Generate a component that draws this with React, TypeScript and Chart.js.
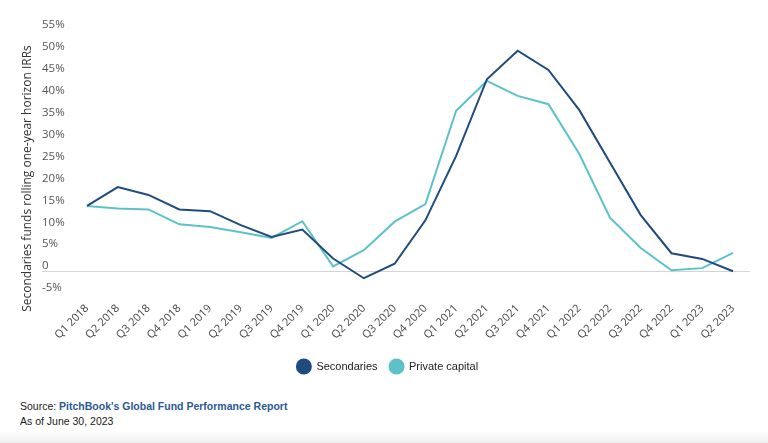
import React, { useEffect, useRef } from "react";
import { Chart, registerables } from "chart.js";

Chart.register(...registerables);

const categories = [
  "Q1 2018", "Q2 2018", "Q3 2018", "Q4 2018",
  "Q1 2019", "Q2 2019", "Q3 2019", "Q4 2019",
  "Q1 2020", "Q2 2020", "Q3 2020", "Q4 2020",
  "Q1 2021", "Q2 2021", "Q3 2021", "Q4 2021",
  "Q1 2022", "Q2 2022", "Q3 2022", "Q4 2022",
  "Q1 2023", "Q2 2023",
];

const secondaries = [
  15.1, 19.4, 17.6, 14.3, 13.9, 10.7, 8.0, 9.7, 3.1, -1.4, 1.9, 11.8,
  26.5, 44.0, 50.5, 46.1, 37.0, 25.0, 13.0, 4.3, 3.0, 0.2,
];

const privateCapital = [
  15.1, 14.5, 14.3, 10.9, 10.3, 9.1, 7.8, 11.6, 1.3, 5.0, 11.5, 15.5,
  36.8, 43.6, 40.2, 38.3, 27.0, 12.4, 5.5, 0.4, 0.9, 4.4,
];

const seriesNames = ["Secondaries", "Private capital"];
const yMin = -5;
const yMax = 55;
const yStep = 5;
const yTitle = "Secondaries funds rolling one-year horizon IRRs";

const DARK = "#1f4b7e";
const TEAL = "#5cc1c8";

export default function App() {
  const ref = useRef<HTMLCanvasElement>(null);

  useEffect(() => {
    if (!ref.current) return;

    const zeroLine = {
      id: "zeroLine",
      beforeDatasetsDraw(chart: any) {
        const y = chart.scales.y;
        const py = Math.round(y.getPixelForValue(0)) - 0.5;
        const ctx = chart.ctx;
        ctx.save();
        ctx.strokeStyle = "#d4d4d4";
        ctx.lineWidth = 1;
        ctx.beginPath();
        ctx.moveTo(y.left, py);
        ctx.lineTo(chart.chartArea.right + 17, py);
        ctx.stroke();
        ctx.restore();
      },
    };

    const titlePlugin = {
      id: "yTitle",
      afterDraw(chart: any) {
        const ctx = chart.ctx;
        const a = chart.chartArea;
        ctx.save();
        ctx.translate(28, (a.top + a.bottom) / 2 + 16);
        ctx.rotate(-Math.PI / 2);
        ctx.font = '12px "Open Sans"';
        ctx.fillStyle = "#333333";
        ctx.textAlign = "center";
        ctx.textBaseline = "middle";
        ctx.fillText(yTitle, 0, 0);
        ctx.restore();
      },
    };

    const chart = new Chart(ref.current, {
      type: "line",
      data: {
        labels: categories,
        datasets: [
          {
            label: seriesNames[0],
            data: secondaries,
            borderColor: DARK,
            backgroundColor: DARK,
            borderWidth: 2,
            pointRadius: 0,
            tension: 0,
          },
          {
            label: seriesNames[1],
            data: privateCapital,
            borderColor: TEAL,
            backgroundColor: TEAL,
            borderWidth: 2,
            pointRadius: 0,
            tension: 0,
          },
        ],
      },
      options: {
        responsive: false,
        animation: false,
        layout: { padding: { top: 31, left: 42, right: 35, bottom: 8 } },
        plugins: {
          tooltip: { enabled: false },
          legend: {
            position: "bottom",
            labels: {
              usePointStyle: true,
              pointStyle: "circle",
              pointStyleWidth: 14,
              boxWidth: 14,
              boxHeight: 10,
              padding: 12,
              color: "#222222",
              font: { family: '"Liberation Sans", Arial', size: 11 },
            },
          },
        },
        scales: {
          x: {
            offset: false,
            grid: { display: false, drawTicks: false },
            border: { display: false },
            ticks: {
              minRotation: 45,
              maxRotation: 45,
              autoSkip: false,
              padding: 8,
              color: "#444444",
              font: { family: '"Open Sans"', size: 11 },
            },
            afterFit(scale: any) {
              scale.height = 55;
            },
          },
          y: {
            min: yMin,
            max: yMax,
            grid: { display: false, drawTicks: false },
            border: { display: false },
            ticks: {
              stepSize: yStep,
              crossAlign: "far",
              labelOffset: -6,
              color: "#555555",
              font: { family: '"Open Sans"', size: 11.5 },
              callback: (v: any) => (Number(v) === 0 ? "0" : `${v}%`),
            },
            afterFit(scale: any) {
              scale.width = 45;
            },
          },
        },
      },
      plugins: [zeroLine, titlePlugin],
    });

    return () => chart.destroy();
  }, []);

  return (
    <div
      style={{
        position: "fixed",
        top: 0,
        left: 0,
        width: 768,
        height: 443,
        background: "#ffffff",
        overflow: "hidden",
      }}
    >
      <canvas ref={ref} width={768} height={390} style={{ display: "block" }} />
      <div
        style={{
          position: "absolute",
          left: 20,
          top: 399,
          fontFamily: '"Liberation Sans", Arial, sans-serif',
          fontSize: 10.5,
          lineHeight: "15px",
          color: "#1a1a1a",
        }}
      >
        <div>
          Source:{" "}
          <span style={{ color: "#2b5893", fontWeight: "bold" }}>
            PitchBook's Global Fund Performance Report
          </span>
        </div>
        <div>As of June 30, 2023</div>
      </div>
      <div
        style={{
          position: "absolute",
          left: 0,
          bottom: 0,
          width: 768,
          height: 12,
          background: "linear-gradient(to bottom, rgba(240,240,240,0), #efefef)",
        }}
      />
    </div>
  );
}
